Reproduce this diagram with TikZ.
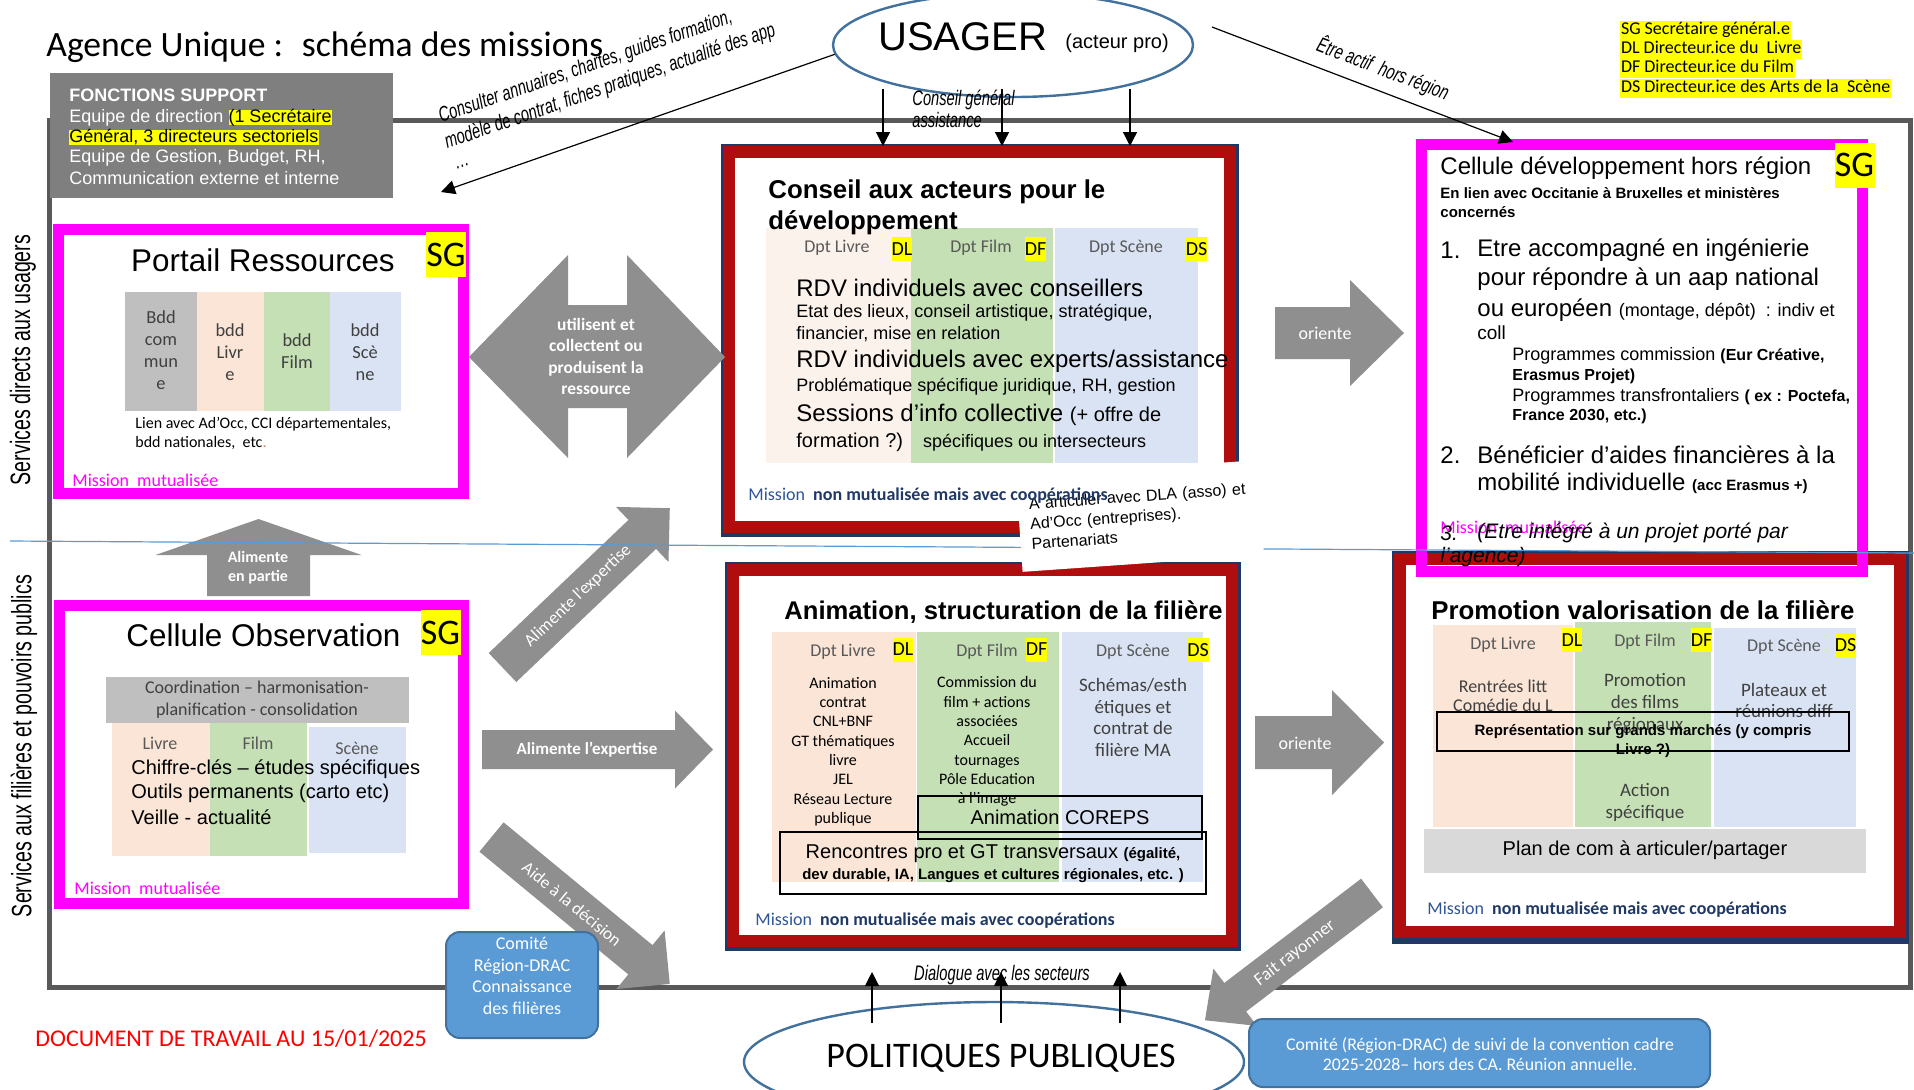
\documentclass[tikz,border=0pt]{standalone}
\usepackage{fontspec}
\setmainfont{Carlito}
\newfontfamily\arialfont{Liberation Sans}
\newfontfamily\condfont[FakeStretch=0.7]{Liberation Sans}
\usetikzlibrary{arrows.meta,shapes.geometric}

\definecolor{boxred}{RGB}{176,14,14}
\definecolor{boxnavy}{RGB}{32,56,100}
\definecolor{pinkmag}{RGB}{255,0,255}
\definecolor{tagyellow}{RGB}{255,255,0}
\definecolor{peach}{RGB}{251,229,214}
\definecolor{palepeach}{RGB}{252,242,236}
\definecolor{leaf}{RGB}{197,224,180}
\definecolor{sky}{RGB}{218,227,243}
\definecolor{bddgrey}{RGB}{191,191,191}
\definecolor{plangrey}{RGB}{217,217,217}
\definecolor{arrowgrey}{RGB}{143,143,143}
\definecolor{supportgrey}{RGB}{127,127,127}
\definecolor{framegrey}{RGB}{89,89,89}
\definecolor{ellblue}{RGB}{65,113,156}
\definecolor{comiteblue}{RGB}{91,155,213}
\definecolor{comiteedge}{RGB}{65,113,156}
\definecolor{sepblue}{RGB}{91,155,213}
\definecolor{missionnavy}{RGB}{31,56,100}
\definecolor{missionblue}{RGB}{47,85,151}
\definecolor{textgrey}{RGB}{64,64,64}
\definecolor{dptgrey}{RGB}{89,89,89}
\definecolor{docred}{RGB}{255,0,0}
\definecolor{dotorange}{RGB}{237,125,49}

\newcommand\fsz[2]{\fontsize{#1}{#2}\selectfont}
\newsavebox\hltbox
\newcommand\hlt[1]{\sbox\hltbox{#1}\rlap{\color{tagyellow}\rule[-1.3pt]{\wd\hltbox}{7.6pt}}{\color{black}#1}}

\tikzset{
  pinkbox/.style={draw=pinkmag, line width=5.5pt, inner sep=0pt},
  redbox/.style={draw=boxred, line width=6pt, fill=white, inner sep=0pt},
  dtag/.style={fill=tagyellow, inner sep=0pt, minimum width=10pt, minimum height=12pt, font=\fsz{10}{12}},
  sgtag/.style={fill=tagyellow, inner sep=0pt, minimum width=20pt, minimum height=22.5pt, font=\fsz{18}{20}},
  dpt/.style={text=dptgrey, inner sep=0pt, font=\fsz{9}{11}},
  txt/.style={anchor=west, inner sep=0pt},
  smalltxt/.style={txt, font=\arialfont\fsz{9}{11}},
  bigtxt/.style={txt, font=\arialfont\fsz{12}{14}},
  mission/.style={txt, font=\fsz{9}{11}, text=missionnavy},
  mutu/.style={txt, font=\fsz{9}{11}, text=pinkmag},
  onarrow/.style={text=white, inner sep=0pt, font=\fsz{8.7}{10.8}},
  thinarrow/.style={line width=0.6pt, -{Triangle[width=7pt,length=7pt]}},
  handnote/.style={inner sep=0pt, font=\condfont\itshape\fsz{10.5}{11}},
  comite/.style={draw=comiteedge, fill=comiteblue, line width=1pt, rounded corners=7pt},
  legendline/.style={anchor=west, fill=tagyellow, inner xsep=0.3pt, inner ysep=0pt,
    text height=7.2pt, text depth=2.3pt, font=\fsz{9}{10}},
  pics/blockarrow/.style n args={4}{code={
    \fill[arrowgrey] (0,-#2/2) -- (#1-#4,-#2/2) -- (#1-#4,-#3/2) -- (#1,0)
      -- (#1-#4,#3/2) -- (#1-#4,#2/2) -- (0,#2/2) -- cycle;}},
}

\begin{document}
\begin{tikzpicture}[x=0.5pt, y=-0.5pt]
	\useasboundingbox (0,0) rectangle (1914,1089);
	\clip (0,0) rectangle (1914,1089);
	\fill[white] (0,0) rectangle (1914,1089);

	% cadre general
	\draw[framegrey, line width=2.5pt] (49,120) rectangle (1910,987);

	% titre, legende, fonctions support
	\node[txt, font=\fsz{17.8}{22}] (title) at (46,47) {Agence Unique :~ schéma des missions};
	\node[legendline] (lgSG) at (1620,30) {SG Secrétaire général.e};
	\node[legendline] (lgDL) at (1620,49) {DL Directeur.ice du~ Livre};
	\node[legendline] (lgDF) at (1620,68) {DF Directeur.ice du Film};
	\node[legendline] (lgDS) at (1620,88) {DS Directeur.ice des Arts de la~ Scène};

	\node[fill=supportgrey, inner sep=0pt, minimum width=171.5pt, minimum height=62.5pt] (support) at (221.5,135.5) {};
	\node[txt, text=white, font=\arialfont\bfseries\fsz{9}{11}] (supTitle) at (69,95) {FONCTIONS SUPPORT};
	\node[smalltxt, text=white] (sup1) at (69,118) {Equipe de direction \hlt{(1 Secrétaire}};
	\node[smalltxt, text=white] (sup2) at (69,137) {\hlt{Général, 3 directeurs sectoriels}};
	\node[smalltxt, text=white] (sup3) at (69,158) {Equipe de Gestion, Budget, RH,};
	\node[smalltxt, text=white] (sup4) at (69,178) {Communication externe et interne};

	\node[rotate=90, inner sep=0pt, font=\condfont\fsz{14}{16}] (vUsagers) at (23,360) {Services directs aux usagers};
	\node[rotate=90, inner sep=0pt, font=\condfont\fsz{14}{16}] (vFilieres) at (24,746) {Services aux filières et pouvoirs publics};

	% usager et politiques publiques
	\node[ellipse, draw=ellblue, line width=1.2pt, inner sep=0pt, minimum width=180pt, minimum height=52pt] (usager) at (1013,45) {};
	\node[txt, font=\arialfont\fsz{20}{24}] (usagerTxt) at (878,37) {USAGER};
	\node[txt, font=\arialfont\fsz{10}{12}] (acteurTxt) at (1065,43) {(acteur pro)};
	\node[ellipse, draw=ellblue, line width=1.2pt, inner sep=0pt, minimum width=250pt, minimum height=60pt] (politiques) at (994,1062) {};
	\node[inner sep=0pt, font=\fsz{18}{22}] (politiquesTxt) at (1001,1058) {POLITIQUES PUBLIQUES};

	% portail ressources
	\node[pinkbox, minimum width=202.5pt, minimum height=132pt] (portail) at (261,361.5) {};
	\node[inner sep=0pt, font=\arialfont\fsz{15.7}{18}] (portailTitle) at (263,260) {Portail Ressources};
	\node[sgtag] (portailSG) at (446,254.5) {SG};
	\fill[bddgrey] (125,292) rectangle (197,411);
	\fill[peach] (197,292) rectangle (264,411);
	\fill[leaf] (264,292) rectangle (330,411);
	\fill[sky] (330,292) rectangle (401,411);
	\node[align=center, text=textgrey, font=\fsz{9.2}{11}] (bddC) at (161,350) {Bdd\\com\\mun\\e};
	\node[align=center, text=textgrey, font=\fsz{9.2}{11}] (bddL) at (230,352) {bdd\\Livr\\e};
	\node[align=center, text=textgrey, font=\fsz{9.2}{11}] (bddF) at (297,351) {bdd\\Film};
	\node[align=center, text=textgrey, font=\fsz{9.2}{11}] (bddS) at (365,352) {bdd\\Scè\\ne};
	\node[txt, font=\fsz{8}{10}] (lien1) at (135,424) {Lien avec Ad’Occ, CCI départementales,};
	\node[txt, font=\fsz{8}{10}] (lien2) at (135,443) {bdd nationales,~ etc{\color{dotorange}.}};
	\node[mutu] (portailMut) at (72,480) {Mission~ mutualisée};

	% cellule observation
	\node[pinkbox, minimum width=202pt, minimum height=149pt] (observation) at (261.5,754.5) {};
	\node[inner sep=0pt, font=\arialfont\fsz{15.7}{18}] (obsTitle) at (263.5,635) {Cellule Observation};
	\node[sgtag] (obsSG) at (440.5,632.5) {SG};
	\fill[bddgrey] (106,677) rectangle (409,723);
	\node[align=center, text=textgrey, font=\fsz{9}{11}] (coord) at (257,700) {Coordination – harmonisation-\\planification - consolidation};
	\fill[peach] (112,723) rectangle (210,856);
	\fill[leaf] (210,723) rectangle (307,856);
	\fill[sky] (309,727) rectangle (406,853);
	\node[dpt] (obsL) at (160,743) {Livre};
	\node[dpt] (obsF) at (258,743) {Film};
	\node[dpt] (obsS) at (357,748) {Scène};
	\node[txt, font=\arialfont\fsz{10}{12}] (obs1) at (131,769) {Chiffre-clés – études spécifiques};
	\node[txt, font=\arialfont\fsz{10}{12}] (obs2) at (131,793) {Outils permanents (carto etc)};
	\node[txt, font=\arialfont\fsz{10}{12}] (obs3) at (131,817) {Veille - actualité};
	\node[mutu] (obsMut) at (74,888) {Mission~ mutualisée};

	% conseil aux acteurs
	\fill[boxnavy] (721,144) rectangle (1239,537);
	\node[redbox, minimum width=250.5pt, minimum height=187.5pt] (conseil) at (979.5,339.5) {};
	\fill[palepeach] (766,228) rectangle (911,463);
	\fill[leaf] (911,228) rectangle (1053,463);
	\fill[sky] (1055,228) rectangle (1198,463);
	\node[txt, font=\arialfont\bfseries\fsz{12.9}{15}] (conseilT1) at (768,192) {Conseil aux acteurs pour le};
	\node[txt, font=\arialfont\bfseries\fsz{12.9}{15}] (conseilT2) at (768,223) {développement};
	\node[dpt] (cL) at (837,248) {Dpt Livre};
	\node[dtag] (cDL) at (902,249) {DL};
	\node[dpt] (cF) at (981,248) {Dpt Film};
	\node[dtag] (cDF) at (1035.5,249) {DF};
	\node[dpt] (cS) at (1126,248) {Dpt Scène};
	\node[dtag] (cDS) at (1196.5,249) {DS};
	\node[bigtxt] (rdv1) at (796,288) {RDV individuels avec conseillers};
	\node[smalltxt] (rdv1a) at (796,313) {Etat des lieux, conseil artistique, stratégique,};
	\node[smalltxt] (rdv1b) at (796,334) {financier, mise en relation};
	\node[bigtxt] (rdv2) at (796,361) {RDV individuels avec experts/assistance};
	\node[smalltxt] (rdv2a) at (796,387) {Problématique spécifique juridique, RH, gestion};
	\node[bigtxt] (sess) at (796,415) {Sessions d’info collective {\fsz{10}{12}(+ offre de}};
	\node[txt, font=\arialfont\fsz{10}{12}] (sessa) at (796,442) {formation ?)\quad{\fsz{9}{11}spécifiques ou intersecteurs}};

	% animation structuration
	\fill[boxnavy] (725,562) rectangle (1241,951);
	\node[redbox, minimum width=249.5pt, minimum height=185.5pt] (animation) at (982.5,755.5) {};
	\fill[peach] (772,632) rectangle (916,882);
	\fill[leaf] (917,632) rectangle (1059,882);
	\fill[sky] (1062,632) rectangle (1203,882);
	\node[txt, font=\arialfont\bfseries\fsz{12.8}{15}] (animTitle) at (784,612) {Animation, structuration de la filière};
	\node[dpt] (aL) at (843,652) {Dpt Livre};
	\node[dtag] (aDL) at (903,649.5) {DL};
	\node[dpt] (aF) at (987,652) {Dpt Film};
	\node[dtag] (aDF) at (1036.5,649.5) {DF};
	\node[dpt] (aS) at (1133,652) {Dpt Scène};
	\node[dtag] (aDS) at (1198,650) {DS};
	\node[align=center, font=\fsz{8}{9.65}] (aLtxt) at (843,751.5) {Animation\\contrat\\CNL+BNF\\GT thématiques\\livre\\JEL\\Réseau Lecture\\publique};
	\node[align=center, font=\fsz{8}{9.65}] (aFtxt) at (987,741.5) {Commission du\\film + actions\\associées\\Accueil\\tournages\\Pôle Education\\à l’image};
	\node[align=center, text=textgrey, font=\fsz{9.5}{10.85}] (aStxt) at (1133,717.5) {Schémas/esth\\étiques et\\contrat de\\filière MA};
	\node[draw, line width=1pt, inner sep=0pt, minimum width=142pt, minimum height=21.5pt, font=\arialfont\fsz{10}{12}] (coreps) at (1060,817.5) {Animation COREPS};
	\node[draw, line width=1pt, inner sep=0pt, minimum width=213pt, minimum height=31pt] (rencontres) at (993,863) {};
	\node[align=center, inner sep=0pt, font=\arialfont\fsz{10}{10.5}] (rencTxt) at (993,864) {Rencontres pro et GT transversaux {\bfseries\fsz{7.5}{9}(égalité,}\\{\bfseries\fsz{7.5}{9}dev durable, IA, Langues et cultures régionales, etc. )}};
	\node[mission] (animMis) at (755,921) {{\color{missionblue}Mission}~ \textbf{non mutualisée mais avec coopérations}};

	% promotion valorisation
	\fill[boxnavy] (1392,551) rectangle (1909,944);
	\node[redbox, minimum width=250pt, minimum height=186.5pt] (promotion) at (1650,745.5) {};
	\fill[peach] (1433,625) rectangle (1573,827);
	\fill[leaf] (1575,622) rectangle (1711,827);
	\fill[sky] (1714,628) rectangle (1856,827);
	\node[txt, font=\arialfont\bfseries\fsz{12.9}{15}] (promoTitle) at (1431,610) {Promotion valorisation de la filière};
	\node[dpt] (pL) at (1503,645) {Dpt Livre};
	\node[dtag] (pDL) at (1572,640) {DL};
	\node[dpt] (pF) at (1645,642) {Dpt Film};
	\node[dtag] (pDF) at (1701.5,640) {DF};
	\node[dpt] (pS) at (1784,647) {Dpt Scène};
	\node[dtag] (pDS) at (1845.5,645) {DS};
	\node[align=center, text=textgrey, font=\fsz{9}{9.5}] (pLtxt) at (1503,695.5) {Rentrées litt\\Comédie du L};
	\node[align=center, text=textgrey, font=\fsz{9.5}{11}] (pFtxt) at (1645,704) {Promotion\\des films\\régionaux};
	\node[align=center, text=textgrey, font=\fsz{9.5}{10.5}] (pStxt) at (1784,700.5) {Plateaux et\\réunions diff};
	\node[align=center, text=textgrey, font=\fsz{9.5}{11}] (pAction) at (1645,802) {Action\\spécifique};
	\node[draw, line width=1pt, inner sep=0pt, minimum width=206pt, minimum height=19.5pt] (representation) at (1643,731.5) {};
	\node[align=center, inner sep=0pt, font=\arialfont\bfseries\fsz{7.5}{9.5}] (reprTxt) at (1643,741.5) {Représentation sur grands marchés (y compris\\Livre ?)};
	\fill[plangrey] (1424,829) rectangle (1866,873);
	\node[inner sep=0pt, font=\arialfont\fsz{10}{12}] (plan) at (1645,850) {Plan de com à articuler/partager};
	\node[mission] (promoMis) at (1427,910) {{\color{missionblue}Mission}~ \textbf{non mutualisée mais avec coopérations}};

	% cellule developpement hors region
	\node[pinkbox, minimum width=220.5pt, minimum height=213.5pt] (celldev) at (1641.5,357.5) {};
	\node[txt, font=\arialfont\fsz{12}{14}] (devTitle) at (1440,168) {Cellule développement hors région};
	\node[sgtag] (devSG) at (1854.5,165) {SG};
	\node[txt, font=\arialfont\bfseries\fsz{7.5}{9}] (devLien1) at (1440,193) {En lien avec Occitanie à Bruxelles et ministères};
	\node[txt, font=\arialfont\bfseries\fsz{7.5}{9}] (devLien2) at (1440,212) {concernés};
	\node[bigtxt] (n1) at (1440,250) {1.};
	\node[bigtxt] (item1a) at (1477,250) {Etre accompagné en ingénierie};
	\node[bigtxt] (item1b) at (1477,279) {pour répondre à un aap national};
	\node[bigtxt] (item1c) at (1477,310) {ou européen {\fsz{9}{11}(montage, dépôt)~ : indiv et}};
	\node[txt, font=\arialfont\fsz{9.5}{11}] (item1d) at (1477,333) {coll};
	\node[smalltxt] (prog1) at (1512,356) {Programmes commission {\bfseries\fsz{8}{10}(Eur Créative,}};
	\node[txt, font=\arialfont\bfseries\fsz{8}{10}] (prog1b) at (1512,376) {Erasmus Projet)};
	\node[smalltxt] (prog2) at (1512,397) {Programmes transfrontaliers {\bfseries\fsz{8}{10}( ex : Poctefa,}};
	\node[txt, font=\arialfont\bfseries\fsz{8}{10}] (prog2b) at (1512,416) {France 2030, etc.)};
	\node[bigtxt] (n2) at (1440,455) {2.};
	\node[bigtxt] (item2a) at (1477,455) {Bénéficier d’aides financières à la};
	\node[bigtxt] (item2b) at (1477,483) {mobilité individuelle {\bfseries\fsz{7.5}{9}(acc Erasmus +)}};
	\node[mutu] (devMut) at (1440,527) {Mission~ mutualisée};
	\node[txt, font=\arialfont\itshape\fsz{10.5}{12}] (n3) at (1440,533) {3.};
	\node[txt, font=\arialfont\itshape\fsz{10.5}{12}] (item3a) at (1477,533) {(Etre intégré à un projet porté par};
	\node[txt, font=\arialfont\itshape\fsz{10.5}{12}] (item3b) at (1440,557) {l’agence)};

	% fleches grises
	\fill[arrowgrey] (469,357) -- (568,255) -- (568,305) -- (627,305) -- (627,255) -- (725,357)
		-- (627,458) -- (627,408) -- (568,408) -- (568,458) -- cycle;
	\node[onarrow, align=center, font=\bfseries\fsz{8.7}{10.8}] (utilisent) at (596,356.5) {utilisent et\\collectent ou\\produisent la\\ressource};
	\pic at (1275,333) {blockarrow={129}{52}{106}{54}};
	\node[onarrow, font=\fsz{9}{11}] (oriente1) at (1325,333) {oriente};
	\pic at (1255,742.5) {blockarrow={129}{53}{105}{52}};
	\node[onarrow, font=\fsz{9}{11}] (oriente2) at (1305,743) {oriente};
	\pic[rotate=90] at (258.5,596) {blockarrow={77}{103}{206}{36}};
	\node[onarrow, align=center, font=\bfseries\fsz{8}{9.5}] (enpartie) at (258,567.5) {Alimente\\en partie};
	\pic at (482,749.5) {blockarrow={231}{39}{78}{38}};
	\node[onarrow, font=\bfseries\fsz{8.5}{10}] (expertH) at (587,750) {Alimente l’expertise};
	\pic[rotate=43.6] at (502.5,667.5) {blockarrow={231}{40}{76}{38}};
	\node[onarrow, rotate=43.6] (expertD) at (578,596) {Alimente l’expertise};
	\pic[rotate=-39.5] at (491.5,837) {blockarrow={231}{38}{76}{38}};
	\node[onarrow, rotate=-39.5] (decision) at (572,904) {Aide à la décision};
	\pic[rotate=217.3] at (1372,893) {blockarrow={210}{36}{72}{38}};
	\node[onarrow, rotate=37.3, font=\fsz{9}{11}] (rayonner) at (1295,953) {Fait rayonner};

	% fleches fines
	\coordinate (consult) at (441,192);
	\draw[thinarrow] (usager.183) -- (consult);
	\node[handnote, anchor=base west, rotate=19] (consult1) at (441,123) {Consulter annuaires, chartes, guides formation,};
	\node[handnote, anchor=base west, rotate=19] (consult2) at (447,149) {modèle de contrat, fiches pratiques, actualité des app};
	\node[handnote, anchor=base west, rotate=19] (consult3) at (456,170) {…};

	\coordinate (actifA) at (1212,27);
	\coordinate (actifB) at (1513,142);
	\draw[thinarrow] (actifA) -- (actifB);
	\node[handnote, rotate=-21] (actifTxt) at (1383,69) {Être actif~ hors région};

	\coordinate (c1) at (883,89);
	\coordinate (c2) at (1002,89);
	\coordinate (c3) at (1130,89);
	\draw[thinarrow] (c1) -- (c1 |- conseil.north);
	\draw[thinarrow] (c2) -- (c2 |- conseil.north);
	\draw[thinarrow] (c3) -- (c3 |- conseil.north);
	\node[handnote, align=left, anchor=west] (conseilGen) at (912,109) {Conseil général\\assistance};

	\coordinate (p1) at (872,1023);
	\coordinate (p2) at (1001,1023);
	\coordinate (p3) at (1120,1023);
	\coordinate (dlgtip) at (0,972);
	\draw[thinarrow] (p1) -- (p1 |- dlgtip);
	\draw[thinarrow] (p2) -- (p2 |- dlgtip);
	\draw[thinarrow] (p3) -- (p3 |- dlgtip);
	\node[handnote] (dialogue) at (1002,975) {Dialogue avec les secteurs};

	% comites
	\node[comite, minimum width=76pt, minimum height=53pt] (comiteA) at (522,985) {};
	\node[text=white, align=center, inner sep=0pt, font=\fsz{9}{10.8}] (comiteAtxt) at (522,976) {Comité\\Région-DRAC\\Connaissance\\des filières};
	\node[comite, minimum width=230.5pt, minimum height=34pt] (comiteB) at (1479.5,1053) {};
	\node[text=white, align=center, inner sep=0pt, font=\fsz{8.9}{10}] (comiteBtxt) at (1480,1054) {Comité (Région-DRAC) de suivi de la convention cadre\\2025-2028– hors des CA. Réunion annuelle.};

	% separation et note
	\draw[sepblue, line width=0.6pt] (10,541) -- (1914,553);
	\node[fill=white, rotate=4, align=left, text width=110pt, inner xsep=5.5pt, minimum height=47.5pt, font=\arialfont\fsz{8}{10}] (articuler) at (1140,516) {A articuler avec DLA (asso) et\\Ad’Occ (entreprises).\\Partenariats};
	\node[mission] (conseilMis) at (748,496) {{\color{missionblue}Mission}~ \textbf{non mutualisée mais avec coopérations}};

	\node[txt, text=docred, font=\fsz{12}{14}] (doc) at (35,1039) {DOCUMENT DE TRAVAIL AU 15/01/2025};
\end{tikzpicture}
\end{document}
